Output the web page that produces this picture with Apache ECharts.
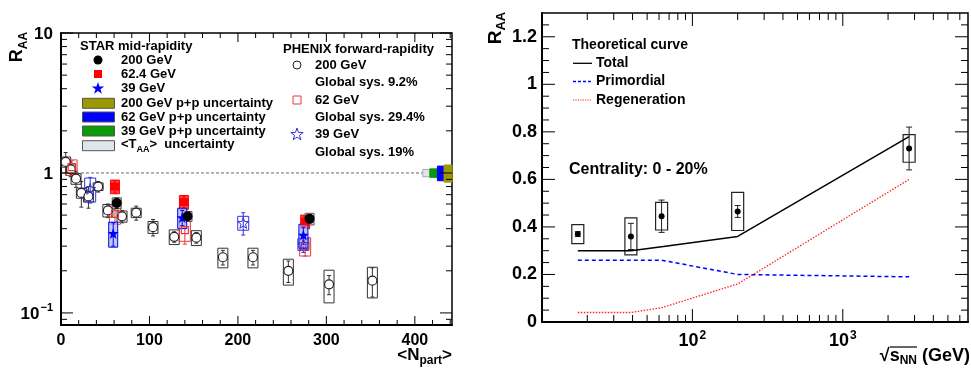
<!DOCTYPE html>
<html><head><meta charset="utf-8">
<script src="https://cdn.jsdelivr.net/npm/echarts@6/dist/echarts.min.js"></script>
<style>html,body{margin:0;padding:0;background:#fff}#c{width:971px;height:368px}</style>
</head><body><div id="c"></div>
<script>
// ================= LEFT PANEL DATA (R_AA vs <Npart>) =================
// PHENIX forward-rapidity, 200 GeV (open circles)
const phx200Npart = [5.3, 11, 17, 23, 31, 42, 53, 69, 85, 104, 128, 153, 183, 217, 257, 303, 352];
const phx200Raa   = [1.20, 1.06, 0.91, 0.72, 0.68, 0.80, 0.54, 0.49, 0.52, 0.41, 0.35, 0.345, 0.25, 0.25, 0.20, 0.16, 0.17];
const phx200Stat  = [0.20, 0.12, 0.12, 0.15, 0.12, 0.07, 0.06, 0.05, 0.06, 0.055, 0.03, 0.03, 0.03, 0.03, 0.035, 0.025, 0.04];
const phx200Sys   = [0.10, 0.10, 0.08, 0.06, 0.06, 0.05, 0.055, 0.045, 0.04, 0.04, 0.042, 0.042, 0.04, 0.04, 0.042, 0.042, 0.042];
// PHENIX forward-rapidity, 62 GeV (open squares)
const phx62Npart = [12, 61, 140, 276];
const phx62Raa   = [1.10, 0.51, 0.39, 0.30];
const phx62Stat  = [0.12, 0.08, 0.08, 0.045];
const phx62Sys   = [0.14, 0.08, 0.065, 0.045];
// PHENIX forward-rapidity, 39 GeV (open stars)
const phx39Npart = [33, 206, 274];
const phx39Raa   = [0.77, 0.44, 0.31];
const phx39Stat  = [0.16, 0.08, 0.04];
const phx39Sys   = [0.15, 0.05, 0.03];
// STAR mid-rapidity
const star200Npart = [63, 143, 281];
const star200Raa   = [0.61, 0.49, 0.47];
const star200Stat  = [0.05, 0.03, 0.03];
const star200Sys   = [0.055, 0.04, 0.045];
const star62Npart = [61, 139, 276];
const star62Raa   = [0.80, 0.62, 0.45];
const star62Stat  = [0.08, 0.06, 0.04];
const star62Sys   = [0.09, 0.07, 0.05];
const star39Npart = [59, 137, 274];
const star39Raa   = [0.37, 0.48, 0.36];
const star39Stat  = [0.07, 0.06, 0.05];
const star39Sys   = [0.075, 0.08, 0.07];
// p+p / <TAA> normalisation uncertainty boxes at R_AA = 1
const ppBoxX0  = [409, 417, 425.5, 433];
const ppBoxX1  = [417, 425.5, 433, 442];
const ppBoxUnc = [0.06, 0.07, 0.12, 0.14];
const unityLine = [[0, 1], [410, 1]];
// axis ticks
const leftXMajor = [0, 100, 200, 300, 400];
const leftXMinor = [20, 40, 60, 80, 120, 140, 160, 180, 220, 240, 260, 280, 320, 340, 360, 380, 420, 440];
const leftYMajor = [0.1, 1, 10];
const leftYMinor = [0.09, 0.2, 0.3, 0.4, 0.5, 0.6, 0.7, 0.8, 0.9, 2, 3, 4, 5, 6, 7, 8, 9];

// ================= RIGHT PANEL DATA (R_AA vs sqrt(sNN)) =================
const sNN      = [17.3, 39, 62.4, 200, 2760];
const raaCent  = [0.37, 0.36, 0.445, 0.465, 0.73];
const raaStat  = [0.01, 0.055, 0.068, 0.025, 0.09];
const raaSys   = [0.04, 0.078, 0.058, 0.08, 0.058];
const theoX        = [17.3, 39, 62.4, 200, 2760];
const theoTotal    = [0.30, 0.30, 0.317, 0.36, 0.78];
const theoPrim     = [0.26, 0.26, 0.26, 0.20, 0.19];
const theoRegen    = [0.04, 0.04, 0.06, 0.16, 0.60];
const rightXMajor = [100, 1000];
const rightXMinor = [20, 30, 40, 50, 60, 70, 80, 90, 200, 300, 400, 500, 600, 700, 800, 900, 2000, 3000, 4000, 5000, 6000];
const rightYMajor = [0, 0.2, 0.4, 0.6, 0.8, 1.0, 1.2];
const rightYMinor = [0.05, 0.1, 0.15, 0.25, 0.3, 0.35, 0.45, 0.5, 0.55, 0.65, 0.7, 0.75, 0.85, 0.9, 0.95, 1.05, 1.1, 1.15, 1.25];

// ================= helpers =================
const FONT = '"Liberation Sans", Arial, Helvetica, sans-serif';
const RED = '#ff0000', PRED = '#e8393b', BLUE = '#0000ff', PBLUE = '#3030e0';

function starPts(cx, cy, R, r) {
  const p = [];
  for (let k = 0; k < 10; k++) {
    const a = -Math.PI / 2 + k * Math.PI / 5, rad = k % 2 ? r : R;
    p.push([cx + rad * Math.cos(a), cy + rad * Math.sin(a)]);
  }
  return p;
}
const STAR_PATH = 'path://' + starPts(10, 10, 10, 4).map((q, i) => (i ? 'L' : 'M') + q[0].toFixed(2) + ' ' + q[1].toFixed(2)).join(' ') + ' Z';

function tickSeries(xi, yi, axis, vals, len, ref) {
  return {
    type: 'custom', xAxisIndex: xi, yAxisIndex: yi, silent: true, clip: false, z: 20,
    data: vals.map(v => axis === 'x' ? [v, ref] : [ref, v]),
    renderItem: (params, api) => {
      const cs = params.coordSys;
      const p = api.coord([api.value(0), api.value(1)]);
      const st = { stroke: '#000', lineWidth: 1 };
      if (axis === 'x') return { type: 'group', children: [
        { type: 'line', shape: { x1: p[0], y1: cs.y + cs.height, x2: p[0], y2: cs.y + cs.height - len }, style: st },
        { type: 'line', shape: { x1: p[0], y1: cs.y, x2: p[0], y2: cs.y + len }, style: st }] };
      return { type: 'group', children: [
        { type: 'line', shape: { x1: cs.x, y1: p[1], x2: cs.x + len, y2: p[1] }, style: st },
        { type: 'line', shape: { x1: cs.x + cs.width, y1: p[1], x2: cs.x + cs.width - len, y2: p[1] }, style: st }] };
    }
  };
}

function boxErr(xi, yi, xs, ys, st, sy, o) {
  return {
    type: 'custom', xAxisIndex: xi, yAxisIndex: yi, silent: true, clip: false, z: o.z || 3,
    data: xs.map((x, i) => [x, ys[i], st[i], sy[i]]),
    renderItem: (params, api) => {
      const x = api.value(0), y = api.value(1), e = api.value(2), s = api.value(3);
      const c = api.coord([x, y]);
      const bt = api.coord([x, y + s])[1], bb = api.coord([x, y - s])[1];
      const et = api.coord([x, y + e])[1], eb = api.coord([x, y - e])[1];
      const hw = o.boxW / 2, cw = o.capW / 2;
      const ls = { stroke: o.errColor || o.color, lineWidth: 1 };
      return { type: 'group', children: [
        { type: 'rect', shape: { x: c[0] - hw, y: bt, width: 2 * hw, height: bb - bt }, style: { fill: o.fill || 'none', stroke: o.color, lineWidth: o.boxLW || 1 } },
        { type: 'line', shape: { x1: c[0], y1: et, x2: c[0], y2: eb }, style: ls },
        { type: 'line', shape: { x1: c[0] - cw, y1: et, x2: c[0] + cw, y2: et }, style: ls },
        { type: 'line', shape: { x1: c[0] - cw, y1: eb, x2: c[0] + cw, y2: eb }, style: ls }] };
    }
  };
}

function markers(xi, yi, xs, ys, symbol, size, fill, stroke, bw, z) {
  return {
    type: 'scatter', xAxisIndex: xi, yAxisIndex: yi, silent: true, z: z || 6,
    data: xs.map((x, i) => [x, ys[i]]), symbol: symbol, symbolSize: size,
    itemStyle: { color: fill, borderColor: stroke, borderWidth: bw, opacity: 1 }
  };
}

const ppColors = ['#dfe6ea', '#0a9a0a', '#0000ff', '#9a9a00'];
const ppSeries = {
  type: 'custom', xAxisIndex: 0, yAxisIndex: 0, silent: true, clip: false, z: 4,
  data: ppBoxX0.map((x, i) => [x, ppBoxX1[i], ppBoxUnc[i], i]),
  renderItem: (params, api) => {
    const a = api.coord([api.value(0), 1 + api.value(2)]);
    const b = api.coord([api.value(1), 1 - api.value(2)]);
    const i = api.value(3);
    return { type: 'rect', shape: { x: a[0], y: a[1], width: b[0] - a[0], height: b[1] - a[1] },
      style: { fill: ppColors[i], stroke: i === 0 ? '#aab' : ppColors[i], lineWidth: 1 } };
  }
};

// ================= chart =================
const chart = echarts.init(document.getElementById('c'), null, { renderer: 'canvas' });
const boldTxt = (fs) => ({ fontFamily: FONT, fontWeight: 'bold', fontSize: fs, color: '#000' });

function supLabel(base, sup, fs, sfs) {
  return '{n|' + base + '}{s|' + sup + '}';
}

const option = {
  animation: false,
  backgroundColor: '#fff',
  grid: [
    { left: 61, top: 33, width: 391, height: 292, show: true, borderColor: '#000', borderWidth: 1.5, backgroundColor: 'transparent' },
    { left: 542, top: 13, width: 428, height: 309, show: true, borderColor: '#000', borderWidth: 1.5, backgroundColor: 'transparent' }
  ],
  xAxis: [
    { type: 'value', gridIndex: 0, min: 0, max: 442, interval: 100,
      axisLine: { show: true, lineStyle: { color: '#000', width: 2 } }, axisTick: { show: false }, splitLine: { show: false },
      axisLabel: Object.assign(boldTxt(16), { margin: 8, hideOverlap: false, showMaxLabel: true,
        formatter: v => (Math.abs(v % 100) < 1e-6 ? String(v) : '') }) },
    { type: 'log', logBase: 10, gridIndex: 1, min: 10, max: 6800,
      axisLine: { show: true, lineStyle: { color: '#000', width: 2 } }, axisTick: { show: false }, splitLine: { show: false }, minorTick: { show: false },
      axisLabel: Object.assign(boldTxt(18), { margin: 8, hideOverlap: false,
        formatter: v => { const e = Math.log10(v); if (Math.abs(e - Math.round(e)) > 1e-6) return ''; const r = Math.round(e); return (r === 2 || r === 3) ? supLabel('10', String(r)) : ''; },
        rich: { n: { fontFamily: FONT, fontWeight: 'bold', fontSize: 18, lineHeight: 20, verticalAlign: 'bottom' },
                s: { fontFamily: FONT, fontWeight: 'bold', fontSize: 12, lineHeight: 20, verticalAlign: 'top', padding: [0, 0, 0, 1] } } }) }
  ],
  yAxis: [
    { type: 'log', logBase: 10, gridIndex: 0, min: 0.082, max: 10,
      axisLine: { show: true, lineStyle: { color: '#000', width: 2 } }, axisTick: { show: false }, splitLine: { show: false }, minorTick: { show: false },
      axisLabel: Object.assign(boldTxt(17), { margin: 8, hideOverlap: false, showMinLabel: true, showMaxLabel: true,
        formatter: v => { const e = Math.log10(v); if (Math.abs(e - Math.round(e)) > 1e-6) return ''; const r = Math.round(e);
          if (r === 1) return '{n|10}'; if (r === 0) return '{n|1}'; if (r === -1) return supLabel('10', '\u22121'); return ''; },
        rich: { n: { fontFamily: FONT, fontWeight: 'bold', fontSize: 17, lineHeight: 20, verticalAlign: 'bottom' },
                s: { fontFamily: FONT, fontWeight: 'bold', fontSize: 11, lineHeight: 20, verticalAlign: 'top', padding: [0, 0, 0, 1] } } }) },
    { type: 'value', gridIndex: 1, min: 0, max: 1.3, interval: 0.2,
      axisLine: { show: true, lineStyle: { color: '#000', width: 2 } }, axisTick: { show: false }, splitLine: { show: false },
      axisLabel: Object.assign(boldTxt(18), { margin: 5, hideOverlap: false,
        formatter: v => (v > 1.25 ? '' : String(+v.toFixed(1))) }) }
  ],
  series: [
    // ticks
    tickSeries(0, 0, 'x', leftXMajor, 9, 1),
    tickSeries(0, 0, 'x', leftXMinor, 5, 1),
    tickSeries(0, 0, 'y', leftYMajor, 12, 0),
    tickSeries(0, 0, 'y', leftYMinor, 6, 0),
    tickSeries(1, 1, 'x', rightXMajor, 13, 0.5),
    tickSeries(1, 1, 'x', rightXMinor, 7, 0.5),
    tickSeries(1, 1, 'y', rightYMajor, 13, 100),
    tickSeries(1, 1, 'y', rightYMinor, 7, 100),
    // unity line
    { type: 'line', xAxisIndex: 0, yAxisIndex: 0, data: unityLine, showSymbol: false, silent: true, z: 2,
      lineStyle: { color: '#666', width: 1, type: [3, 2] } },
    ppSeries,
    // PHENIX boxes + errors
    boxErr(0, 0, phx200Npart, phx200Raa, phx200Stat, phx200Sys, { color: '#333', boxW: 10, capW: 4 }),
    boxErr(0, 0, phx62Npart, phx62Raa, phx62Stat, phx62Sys, { color: PRED, boxW: 11, capW: 4 }),
    boxErr(0, 0, phx39Npart, phx39Raa, phx39Stat, phx39Sys, { color: PBLUE, boxW: 11, capW: 4 }),
    // STAR boxes + errors
    boxErr(0, 0, star200Npart, star200Raa, star200Stat, star200Sys, { color: '#555', fill: 'rgba(200,210,215,0.7)', boxW: 9, capW: 4, errColor: '#000', z: 4 }),
    boxErr(0, 0, star62Npart, star62Raa, star62Stat, star62Sys, { color: RED, fill: 'rgba(255,40,40,0.85)', boxW: 9, capW: 4, z: 4 }),
    boxErr(0, 0, star39Npart, star39Raa, star39Stat, star39Sys, { color: BLUE, fill: 'rgba(170,185,230,0.75)', boxW: 9, capW: 4, z: 4 }),
    // markers
    markers(0, 0, phx200Npart, phx200Raa, 'circle', 9, '#fff', '#222', 1.2, 5),
    markers(0, 0, phx62Npart, phx62Raa, 'rect', 7, 'rgba(255,255,255,0)', PRED, 1.2, 5),
    markers(0, 0, phx39Npart, phx39Raa, STAR_PATH, 11, 'rgba(255,255,255,0)', PBLUE, 1, 5),
    markers(0, 0, star62Npart, star62Raa, 'rect', 8, RED, RED, 0, 7),
    markers(0, 0, star39Npart, star39Raa, STAR_PATH, 11, BLUE, BLUE, 0, 7),
    markers(0, 0, star200Npart, star200Raa, 'circle', 10, '#000', '#000', 0, 8),
    // right panel curves
    { type: 'line', xAxisIndex: 1, yAxisIndex: 1, data: theoX.map((x, i) => [x, theoTotal[i]]), showSymbol: false, silent: true, z: 3,
      lineStyle: { color: '#000', width: 1.5, type: 'solid' } },
    { type: 'line', xAxisIndex: 1, yAxisIndex: 1, data: theoX.map((x, i) => [x, theoPrim[i]]), showSymbol: false, silent: true, z: 3,
      lineStyle: { color: '#0000ff', width: 1.5, type: [4, 3] } },
    { type: 'line', xAxisIndex: 1, yAxisIndex: 1, data: theoX.map((x, i) => [x, theoRegen[i]]), showSymbol: false, silent: true, z: 3,
      lineStyle: { color: '#ff2020', width: 1.3, type: [1.5, 1.5] } },
    boxErr(1, 1, sNN, raaCent, raaStat, raaSys, { color: '#222', boxW: 12, capW: 6, boxLW: 1.2 }),
    markers(1, 1, sNN, raaCent, 'circle', 6, '#000', '#000', 0, 6)
  ],
  graphic: []
};

// ---------- legends and titles (text) ----------
const G = option.graphic;
function txt(x, y, text, fs, extra) {
  G.push(Object.assign({ type: 'text', x: x, y: y, silent: true, z: 50,
    style: Object.assign({ text: text, fill: '#000', fontFamily: FONT, fontWeight: 'bold', fontSize: fs, align: 'left', verticalAlign: 'middle' }, extra || {}) }));
}
// left legend (STAR)
txt(80, 46, 'STAR mid-rapidity', 13);
G.push({ type: 'circle', shape: { cx: 98, cy: 60, r: 4.5 }, style: { fill: '#000' }, z: 50 });
G.push({ type: 'rect', shape: { x: 94, y: 70, width: 8, height: 8 }, style: { fill: RED }, z: 50 });
G.push({ type: 'polygon', shape: { points: starPts(98, 88.5, 6.5, 2.6) }, style: { fill: BLUE }, z: 50 });
txt(121, 60, '200 GeV', 13);
txt(121, 74, '62.4 GeV', 13);
txt(121, 88.5, '39 GeV', 13);
const legBoxFill = ['#9a9a00', '#0000ff', '#0a9a0a', '#dfe6ea'];
const legBoxY = [103.3, 117, 131, 145.7];
const legBoxTxt = ['200 GeV p+p uncertainty', '62 GeV p+p uncertainty', '39 GeV p+p uncertainty'];
legBoxY.forEach((y, i) => {
  G.push({ type: 'rect', shape: { x: 82.5, y: y - 5, width: 32, height: 10 }, style: { fill: legBoxFill[i], stroke: '#555', lineWidth: 1 }, z: 50 });
  if (i < 3) txt(121, y, legBoxTxt[i], 13);
});
G.push({ type: 'text', x: 121, y: 145.7, z: 50, silent: true,
  style: { text: '{n|<T}{s|AA}{n|>  uncertainty}', verticalAlign: 'middle', align: 'left',
    rich: { n: { fontFamily: FONT, fontWeight: 'bold', fontSize: 13, lineHeight: 16, verticalAlign: 'top' },
            s: { fontFamily: FONT, fontWeight: 'bold', fontSize: 9, lineHeight: 16, verticalAlign: 'bottom', padding: [6, 0, 0, 0] } } } });
// left legend (PHENIX)
txt(283, 49, 'PHENIX forward-rapidity', 13);
G.push({ type: 'circle', shape: { cx: 297, cy: 65, r: 4 }, style: { fill: '#fff', stroke: '#222', lineWidth: 1 }, z: 50 });
G.push({ type: 'rect', shape: { x: 293, y: 96, width: 8, height: 8 }, style: { fill: 'none', stroke: PRED, lineWidth: 1 }, z: 50 });
G.push({ type: 'polygon', shape: { points: starPts(297, 134.5, 6.5, 2.6) }, style: { fill: 'none', stroke: PBLUE, lineWidth: 1 }, z: 50 });
txt(315, 65, '200 GeV', 13);
txt(315, 82.5, 'Global sys. 9.2%', 13);
txt(315, 100, '62 GeV', 13);
txt(315, 117.5, 'Global sys. 29.4%', 13);
txt(315, 134.5, '39 GeV', 13);
txt(315, 152, 'Global sys. 19%', 13);
// left axis titles
G.push({ type: 'text', x: 19, y: 47, rotation: Math.PI / 2, z: 50, silent: true,
  style: { text: '{n|R}{s|AA}', align: 'center', verticalAlign: 'middle',
    rich: { n: { fontFamily: FONT, fontWeight: 'bold', fontSize: 18, lineHeight: 22, verticalAlign: 'top' },
            s: { fontFamily: FONT, fontWeight: 'bold', fontSize: 12, lineHeight: 22, verticalAlign: 'bottom', padding: [8, 0, 0, 0] } } } });
G.push({ type: 'text', x: 452, y: 357, z: 50, silent: true,
  style: { text: '{n|<N}{s|part}{n|>}', align: 'right', verticalAlign: 'middle',
    rich: { n: { fontFamily: FONT, fontWeight: 'bold', fontSize: 17, lineHeight: 20, verticalAlign: 'top' },
            s: { fontFamily: FONT, fontWeight: 'bold', fontSize: 12, lineHeight: 20, verticalAlign: 'bottom', padding: [8, 0, 0, 0] } } } });
// right legend
txt(572, 45, 'Theoretical curve', 14);
G.push({ type: 'line', shape: { x1: 573, y1: 63.3, x2: 592, y2: 63.3 }, style: { stroke: '#000', lineWidth: 1.3 }, z: 50 });
G.push({ type: 'line', shape: { x1: 573, y1: 81.5, x2: 592, y2: 81.5 }, style: { stroke: '#0000ff', lineWidth: 1.3, lineDash: [3, 2] }, z: 50 });
G.push({ type: 'line', shape: { x1: 573, y1: 100, x2: 592, y2: 100 }, style: { stroke: '#ff2020', lineWidth: 1.2, lineDash: [1.2, 1.2] }, z: 50 });
txt(596, 63.3, 'Total', 14);
txt(596, 81.5, 'Primordial', 14);
txt(596, 100, 'Regeneration', 14);
txt(569, 170, 'Centrality: 0 - 20%', 16);
// right axis titles
G.push({ type: 'text', x: 497, y: 28, rotation: Math.PI / 2, z: 50, silent: true,
  style: { text: '{n|R}{s|AA}', align: 'center', verticalAlign: 'middle',
    rich: { n: { fontFamily: FONT, fontWeight: 'bold', fontSize: 19, lineHeight: 22, verticalAlign: 'top' },
            s: { fontFamily: FONT, fontWeight: 'bold', fontSize: 13, lineHeight: 22, verticalAlign: 'bottom', padding: [8, 0, 0, 0] } } } });
G.push({ type: 'text', x: 970, y: 357, z: 50, silent: true,
  style: { text: '{n|\u221As}{s|NN}{n| (GeV)}', align: 'right', verticalAlign: 'middle',
    rich: { n: { fontFamily: FONT, fontWeight: 'bold', fontSize: 18, lineHeight: 20, verticalAlign: 'top' },
            s: { fontFamily: FONT, fontWeight: 'bold', fontSize: 12, lineHeight: 20, verticalAlign: 'bottom', padding: [8, 0, 0, 0] } } } });
G.push({ type: 'line', shape: { x1: 890, y1: 347, x2: 917, y2: 347 }, style: { stroke: '#000', lineWidth: 1.2 }, z: 50 });

chart.setOption(option);
</script></body></html>
